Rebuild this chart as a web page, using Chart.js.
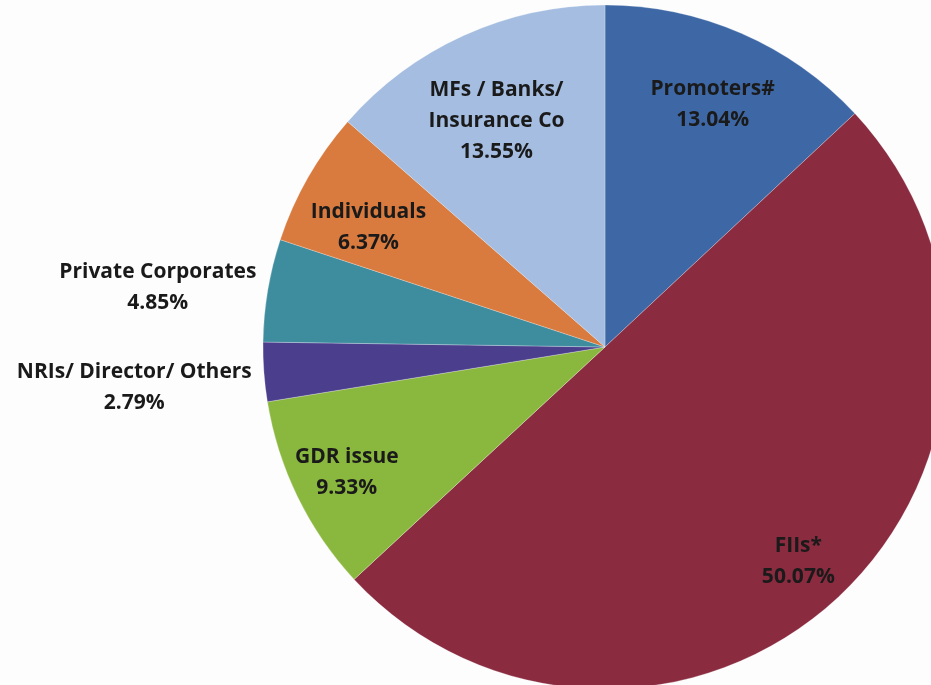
<!DOCTYPE html>
<html>
<head>
<meta charset="utf-8">
<script src="https://cdn.jsdelivr.net/npm/chart.js@4/dist/chart.umd.min.js"></script>
<style>
html,body{margin:0;padding:0;background:#fdfdfd;width:931px;height:685px;overflow:hidden;}
#wrap{position:absolute;left:0;top:0;width:1210px;height:694px;}
</style>
</head>
<body>
<div id="wrap"><canvas id="c" width="1210" height="694"></canvas></div>
<script>
const categories = ["Promoters#", "FIIs*", "GDR issue", "NRIs/ Director/ Others", "Private Corporates", "Individuals", "MFs / Banks/ Insurance Co"];
const labelLines = [["Promoters#"], ["FIIs*"], ["GDR issue"], ["NRIs/ Director/ Others"], ["Private Corporates"], ["Individuals"], ["MFs / Banks/", "Insurance Co"]];
const shares = [13.04, 50.07, 9.33, 2.79, 4.85, 6.37, 13.55];
const sliceColors = ["#3e68a5", "#8a2b40", "#8ab73e", "#4a3e8d", "#3e8d9f", "#d97a3e", "#a4bde0"];
const labelRadius = [0.79, 0.83, 0.84, 1.38, 1.32, 0.78, 0.74];
const labelShift = [[0, 5], [0, 7], [0, 0], [0, 6], [-2, 15], [-5, 13], [-4, 5]];

const labelPlugin = {
  id: 'sliceLabels',
  afterDatasetsDraw(chart) {
    const ctx = chart.ctx;
    const meta = chart.getDatasetMeta(0);
    ctx.save();
    ctx.font = 'bold 21px "Open Sans", Lato, sans-serif';
    ctx.fillStyle = '#1a1a1a';
    ctx.textAlign = 'center';
    ctx.textBaseline = 'middle';
    const lh = 31;
    meta.data.forEach((arc, i) => {
      const p = arc.getProps(['x','y','startAngle','endAngle','outerRadius'], true);
      const mid = (p.startAngle + p.endAngle) / 2;
      const r = p.outerRadius * labelRadius[i];
      const cx = p.x + Math.cos(mid) * r + labelShift[i][0];
      const cy = p.y + Math.sin(mid) * r + labelShift[i][1];
      const lines = labelLines[i].concat([shares[i].toFixed(2) + '%']);
      const top = cy - (lines.length - 1) * lh / 2;
      lines.forEach((t, k) => ctx.fillText(t, cx, top + k * lh));
    });
    ctx.restore();
  }
};

new Chart(document.getElementById('c'), {
  type: 'pie',
  data: {
    labels: categories,
    datasets: [{
      data: shares,
      backgroundColor: sliceColors,
      borderColor: 'rgba(255,255,255,0.25)',
      borderWidth: 1
    }]
  },
  options: {
    responsive: false,
    animation: false,
    radius: 342,
    layout: { padding: 0 },
    plugins: { legend: { display: false }, tooltip: { enabled: false } }
  },
  plugins: [labelPlugin]
});
</script>
</body>
</html>
